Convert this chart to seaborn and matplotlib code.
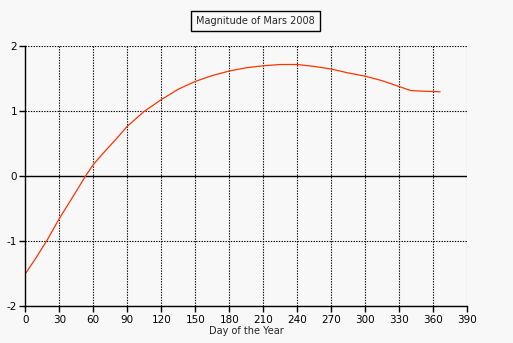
import matplotlib
matplotlib.use("Agg")
import matplotlib.pyplot as plt
import seaborn as sns
import pandas as pd

days = [0, 10, 20, 30, 45, 53, 60, 70, 80, 90, 105, 120, 135, 150, 165, 180,
        195, 210, 225, 240, 255, 270, 285, 300, 315, 330, 340, 350, 366]
magnitude = [-1.50, -1.24, -0.96, -0.65, -0.23, 0.00, 0.18, 0.38, 0.57, 0.77,
             1.00, 1.18, 1.34, 1.46, 1.55, 1.62, 1.67, 1.70, 1.72, 1.72, 1.69,
             1.65, 1.59, 1.54, 1.47, 1.38, 1.32, 1.31, 1.30]
x_ticks = [0, 30, 60, 90, 120, 150, 180, 210, 240, 270, 300, 330, 360, 390]
y_ticks = [-2, -1, 0, 1, 2]
title = "Magnitude of Mars 2008"
x_label = "Day of the Year"

df = pd.DataFrame({"day": days, "mag": magnitude})

sns.set_theme(style="white")
plt.rcParams["font.family"] = ["DejaVu Sans"]
bg = "#f8f8f8"

fig = plt.figure(figsize=(5.13, 3.43), dpi=100, facecolor=bg)
ax = fig.add_axes([25.3 / 513, 1 - 306.3 / 343, 442 / 513, 260 / 343])
ax.set_facecolor(bg)

sns.lineplot(data=df, x="day", y="mag", ax=ax, color="#ff3300", linewidth=0.9)

ax.set_xlim(0, 390)
ax.set_ylim(-2, 2)
ax.set_xticks(x_ticks)
ax.set_yticks(y_ticks)
ax.set_xticklabels([str(t) for t in x_ticks], fontsize=7.5)
ax.set_yticklabels([str(t) for t in y_ticks], fontsize=7.5)
ax.set_xlabel(x_label, fontsize=7, labelpad=1)
ax.set_ylabel("")

for v in x_ticks[1:]:
    ax.axvline(v, color="black", linewidth=0.8, linestyle=(0, (1.2, 1.2)), zorder=0)
for v in y_ticks:
    if v == 0:
        continue
    ax.axhline(v, color="black", linewidth=0.8, linestyle=(0, (1.2, 1.2)), zorder=0)
ax.axhline(0, color="black", linewidth=1.0, zorder=1)

for s in ["top", "right"]:
    ax.spines[s].set_visible(False)
for s in ["left", "bottom"]:
    ax.spines[s].set_color("black")
    ax.spines[s].set_linewidth(1.0)

ax.tick_params(axis="both", direction="out", length=4, width=1, color="black",
               pad=2, labelcolor="black", bottom=True, left=True)

fig.text(255.7 / 513, 1 - 21 / 343, title, ha="center", va="center", fontsize=7,
         bbox=dict(boxstyle="square,pad=0.5", facecolor=bg, edgecolor="black", linewidth=1.0))

fig.savefig("out.png", dpi=100, facecolor=bg)
